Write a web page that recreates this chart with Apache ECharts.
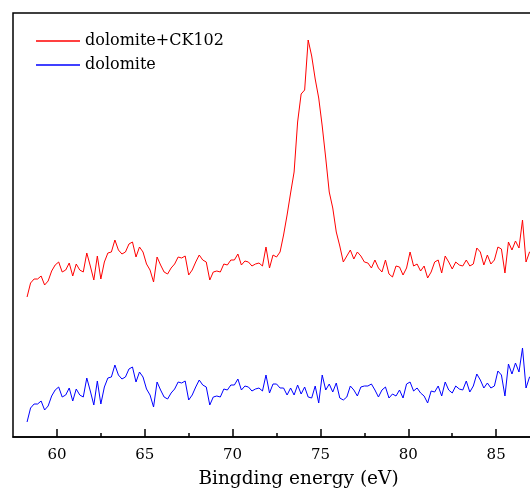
<!DOCTYPE html>
<html>
<head>
<meta charset="utf-8">
<script src="https://cdn.jsdelivr.net/npm/echarts@6/dist/echarts.min.js"></script>
<style>html,body{margin:0;padding:0;background:#fff;}#c{width:530px;height:492px;}</style>
</head>
<body>
<div id="c"></div>
<script>
const energy = [
58.3,58.5,58.7,58.9,59.1,59.3,59.5,59.7,59.9,60.1,
60.3,60.5,60.7,60.9,61.1,61.3,61.5,61.7,61.9,62.1,
62.3,62.5,62.7,62.9,63.1,63.3,63.5,63.7,63.9,64.1,
64.3,64.5,64.7,64.9,65.1,65.3,65.5,65.7,65.9,66.1,
66.3,66.5,66.7,66.9,67.1,67.3,67.5,67.7,67.9,68.1,
68.3,68.5,68.7,68.9,69.1,69.3,69.5,69.7,69.9,70.1,
70.3,70.5,70.7,70.9,71.1,71.3,71.5,71.7,71.9,72.1,
72.3,72.5,72.7,72.9,73.1,73.3,73.5,73.7,73.9,74.1,
74.3,74.5,74.7,74.9,75.1,75.3,75.5,75.7,75.9,76.1,
76.3,76.5,76.7,76.9,77.1,77.3,77.5,77.7,77.9,78.1,
78.3,78.5,78.7,78.9,79.1,79.3,79.5,79.7,79.9,80.1,
80.3,80.5,80.7,80.9,81.1,81.3,81.5,81.7,81.9,82.1,
82.3,82.5,82.7,82.9,83.1,83.3,83.5,83.7,83.9,84.1,
84.3,84.5,84.7,84.9,85.1,85.3,85.5,85.7,85.9,86.1,
86.3,86.5,86.7,86.9,87.1
];
const dolomiteCK102 = [
140,154,158,158,161,152,156,166,172,175,
165,167,174,161,173,167,165,184,171,157,
181,158,175,184,185,197,187,183,185,193,
195,180,190,185,173,167,155,180,172,165,
163,169,173,180,179,181,162,167,175,182,
177,175,157,165,166,165,173,172,177,177,
183,172,176,175,171,173,174,171,190,169,
182,180,185,202,222,244,265,315,343,347,
397,381,358,339,311,279,245,229,205,191,
175,181,187,178,185,181,175,174,169,177,
169,165,177,163,160,171,170,162,169,185,
171,173,166,171,159,165,175,177,164,181,
175,168,175,172,171,177,171,173,189,185,
172,182,173,177,190,188,164,195,187,196,
189,217,175,185,187
];
const dolomite = [
15,29,33,33,36,27,31,41,47,50,
40,42,49,36,48,42,40,59,46,32,
56,33,50,59,60,72,62,58,60,68,
70,55,65,60,48,42,30,55,47,40,
38,44,48,55,54,56,37,42,50,57,
52,50,32,40,41,40,48,47,52,52,
58,47,51,50,46,48,49,46,62,44,
53,53,49,49,42,49,42,52,43,50,
40,39,51,34,62,47,53,45,54,39,
37,40,51,47,41,50,51,51,53,47,
40,47,50,39,43,41,47,39,53,55,
46,49,44,41,34,46,45,51,41,55,
47,44,51,48,47,56,45,51,63,57,
49,54,49,51,66,62,41,73,63,74,
65,89,49,60,61
];
const majorTicks = [60, 65, 70, 75, 80, 85, 90];
const minorTicks = [62.5, 67.5, 72.5, 77.5, 82.5, 87.5];
const seriesNames = ['dolomite+CK102', 'dolomite'];

const FONT = 'DejaVu Serif';
const chart = echarts.init(document.getElementById('c'), null, {renderer: 'canvas'});
const pairs = (ys) => energy.map((x, i) => [x, ys[i]]);

chart.setOption({
  animation: false,
  backgroundColor: '#fff',
  grid: {left: 13, right: -54, top: 13, bottom: 55, containLabel: false, outerBoundsMode: 'none',
         show: true, borderColor: '#000', borderWidth: 1.5, backgroundColor: 'transparent'},
  legend: {
    orient: 'vertical', left: 31, top: 28, padding: 5, itemWidth: 44, itemHeight: 1.5, itemGap: 8,
    icon: 'rect',
    textStyle: {fontFamily: FONT, fontSize: 16, color: '#000'},
    data: seriesNames
  },
  xAxis: [{
    type: 'value', min: 57.5, max: 90,
    name: 'Bingding energy (eV)', nameLocation: 'middle', nameGap: 33,
    nameTextStyle: {fontFamily: FONT, fontSize: 18.5, color: '#000'},
    axisLine: {show: true, lineStyle: {color: '#000', width: 1.5}},
    axisTick: {show: true, inside: true, length: 8, customValues: majorTicks, lineStyle: {color: '#000', width: 1.5}},
    axisLabel: {show: true, margin: 11, customValues: majorTicks, fontFamily: FONT, fontSize: 15, color: '#000'},
    splitLine: {show: false}
  }, {
    type: 'value', min: 57.5, max: 90, position: 'bottom', gridIndex: 0,
    axisLine: {show: false},
    axisTick: {show: true, inside: true, length: 4, customValues: minorTicks, lineStyle: {color: '#000', width: 1.5}},
    axisLabel: {show: false},
    splitLine: {show: false}
  }],
  yAxis: {
    type: 'value', min: 0, max: 424,
    axisLine: {show: false}, axisTick: {show: false}, axisLabel: {show: false}, splitLine: {show: false}
  },
  series: [
    {name: seriesNames[0], type: 'line', data: pairs(dolomiteCK102), symbol: 'none', showSymbol: false,
     itemStyle: {color: '#ff0000'}, lineStyle: {color: '#ff0000', width: 1}},
    {name: seriesNames[1], type: 'line', data: pairs(dolomite), symbol: 'none', showSymbol: false,
     itemStyle: {color: '#0000ff'}, lineStyle: {color: '#0000ff', width: 1}}
  ]
});
</script>
</body>
</html>
